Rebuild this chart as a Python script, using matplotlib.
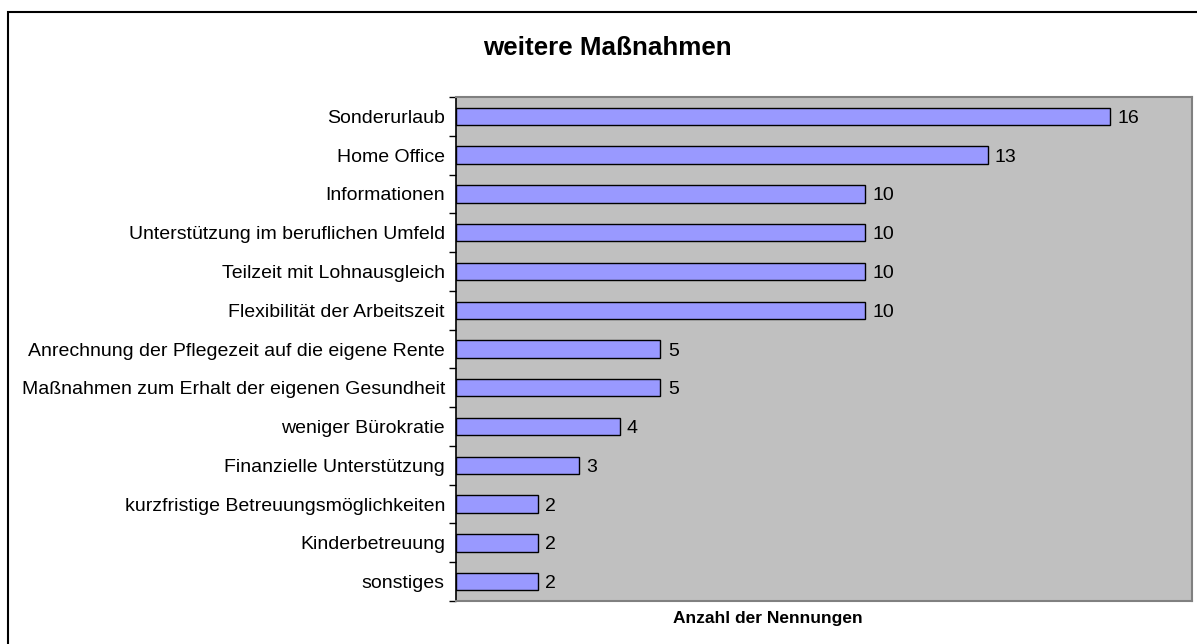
import matplotlib
matplotlib.use("Agg")
import matplotlib.pyplot as plt
from matplotlib.patches import Rectangle

categories = [
    "Sonderurlaub",
    "Home Office",
    "Informationen",
    "Unterstützung im beruflichen Umfeld",
    "Teilzeit mit Lohnausgleich",
    "Flexibilität der Arbeitszeit",
    "Anrechnung der Pflegezeit auf die eigene Rente",
    "Maßnahmen zum Erhalt der eigenen Gesundheit",
    "weniger Bürokratie",
    "Finanzielle Unterstützung",
    "kurzfristige Betreuungsmöglichkeiten",
    "Kinderbetreuung",
    "sonstiges",
]
values = [16, 13, 10, 10, 10, 10, 5, 5, 4, 3, 2, 2, 2]
title = "weitere Maßnahmen"
xlabel = "Anzahl der Nennungen"

plt.rcParams['font.family'] = ['Liberation Sans', 'DejaVu Sans']

W, H = 1197, 644
fig = plt.figure(figsize=(W / 100, H / 100), dpi=100)

# outer chart border (right and bottom edges lie outside the image)
fig.patches.append(Rectangle((8 / W, -20 / H), (W + 20) / W, (H + 8) / H,
                             transform=fig.transFigure, fill=False,
                             edgecolor="black", linewidth=1.5, zorder=0))

left, right, top, bottom = 456, 1192, 97, 601
ax = fig.add_axes([left / W, 1 - bottom / H, (right - left) / W, (bottom - top) / H])
ax.set_facecolor("#c0c0c0")

n = len(categories)
ypos = list(range(n))
ax.barh(ypos, values, height=0.45, color="#9999ff", edgecolor="black", linewidth=1.0)
ax.set_xlim(0, 18)
ax.set_ylim(n - 0.5, -0.5)

for y, v in zip(ypos, values):
    ax.text(v + 0.18, y, str(v), va="center_baseline", ha="left", fontsize=14)

ax.set_yticks(ypos)
ax.set_yticklabels(categories, fontsize=14)
ax.tick_params(axis="y", length=0, pad=8)
ax.set_yticks([i - 0.5 for i in range(n + 1)], minor=True)
ax.tick_params(axis="y", which="minor", length=5, width=1, color="black", direction="out")
ax.set_xticks([])

for s in ["top", "right", "bottom"]:
    ax.spines[s].set_color("#808080")
    ax.spines[s].set_linewidth(1.5)
ax.spines["left"].set_color("black")
ax.spines["left"].set_linewidth(1.2)

fig.text(607 / W, 1 - 48 / H, title, ha="center", va="center", fontsize=18.7, fontweight="bold")
fig.text(768 / W, 1 - 619 / H, xlabel, ha="center", va="center", fontsize=12.5, fontweight="bold")

fig.savefig("out.png", dpi=100)
